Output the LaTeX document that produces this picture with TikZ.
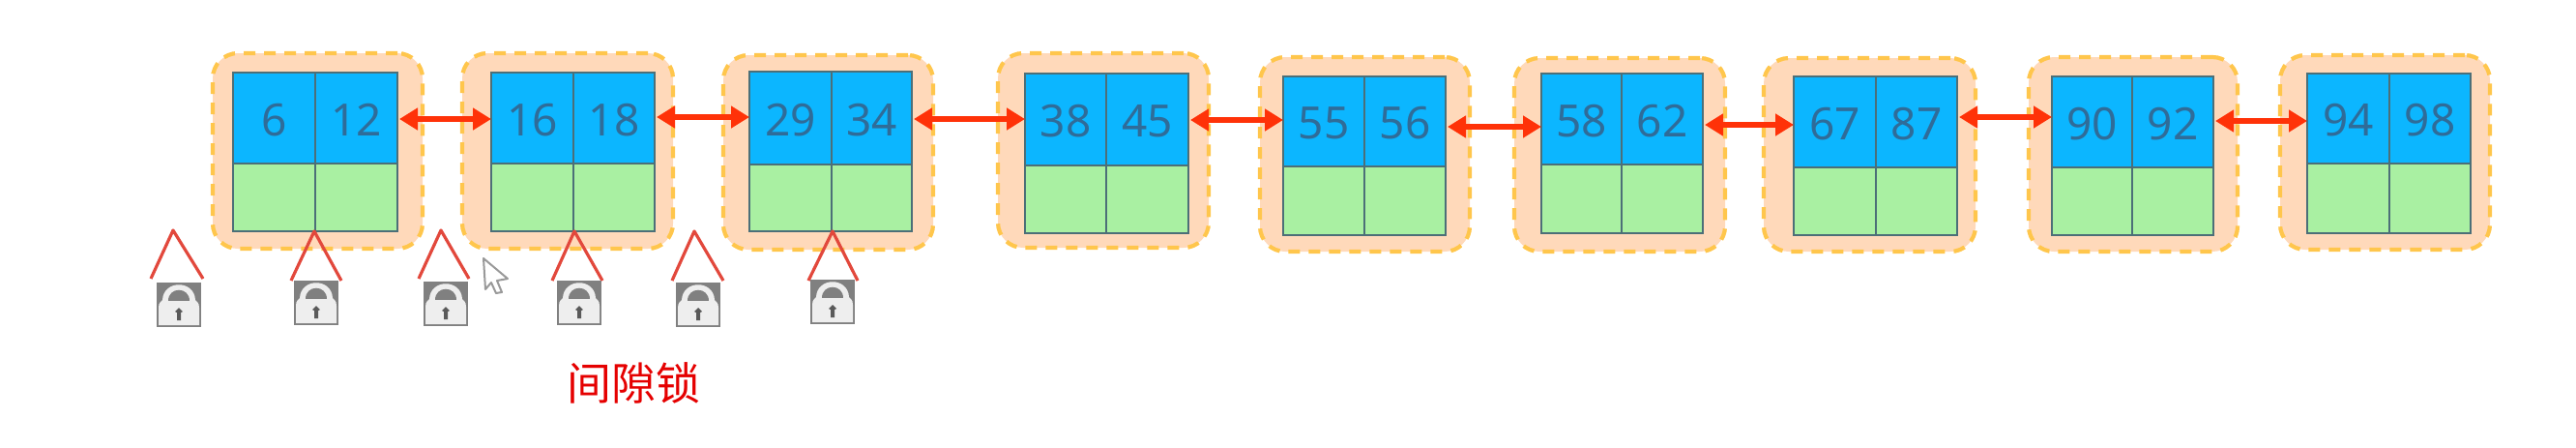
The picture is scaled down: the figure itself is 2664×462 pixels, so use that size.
\documentclass[tikz,border=0pt]{standalone}
\usepackage{fontspec}
\setmainfont{Noto Sans}
\newfontfamily\cjkfont{Noto Sans CJK SC}
\usetikzlibrary{fit,arrows.meta}
\definecolor{halo}{HTML}{FFD9BA}
\definecolor{halodash}{HTML}{FFC64C}
\definecolor{keyblue}{HTML}{0CB6FF}
\definecolor{leafgreen}{HTML}{A9F0A2}
\definecolor{cellline}{HTML}{4C6F78}
\definecolor{digit}{HTML}{2F6C99}
\definecolor{linkred}{HTML}{FF3208}
\definecolor{roofred}{HTML}{E2483C}
\definecolor{lockdark}{HTML}{808080}
\definecolor{locklight}{HTML}{EEEEEE}
\tikzset{
  x=0.5pt,y=-0.5pt,
  page/.style={fill=halo,draw=halodash,line width=2.1pt,rounded corners=13pt,dash pattern=on 6pt off 4.5pt,inner sep=0pt,outer sep=0pt},
  keycell/.style={fill=keyblue,draw=cellline,line width=0.9pt,inner sep=0pt,outer sep=0pt},
  leafcell/.style={fill=leafgreen,draw=cellline,line width=0.9pt,inner sep=0pt,outer sep=0pt},
  val/.style={text=digit,font=\fontsize{23}{23}\selectfont,inner sep=0pt},
  link/.style={draw=linkred,fill=linkred,line width=3pt,{Triangle[length=9.5pt,width=11pt]}-{Triangle[length=9.5pt,width=11pt]},shorten <=1pt},
  roofline/.style={draw=roofred,line width=1.6pt,line join=round},
  pics/lockicon/.style={code={
    \fill[lockdark] (0,0) rectangle (46,46);
    \fill[locklight] (2,44) -- (2,26) .. controls (2,20) and (5,20) .. (6,18) .. controls (7,-3) and (39,-3) .. (40,18) .. controls (41,20) and (44,20) .. (44,26) -- (44,44) -- cycle;
    \fill[lockdark] (12,19) .. controls (12,4) and (34,4) .. (34,19) -- cycle;
    \fill[lockdark!70!black] (23,26) -- (27,30) -- (25,31) -- (25,39) -- (21,39) -- (21,31) -- (19,30) -- cycle;
  }},
}
\begin{document}
\begin{tikzpicture}
\useasboundingbox (0,0) rectangle (2664,462);
\foreach \n/\Hl/\Hr/\Ht/\Hb/\Xa/\Xd/\Xb/\Yt/\Ym/\Yb/\Va/\Vb in {
  1/220/437/55/257/241/326/411/75/169/239/6/12,
  2/478/696/55/257/508/593/677/75/169/239/16/18,
  3/748/965/57/258/775/860/943/74/170/239/29/34,
  4/1032/1250/55/256/1060/1144/1229/76/171/241/38/45,
  5/1303/1520/59/260/1327/1411/1495/79/172/243/55/56,
  6/1566/1784/60/260/1594/1677/1761/76/170/241/58/62,
  7/1824/2043/60/260/1855/1940/2024/79/173/243/67/87,
  8/2098/2314/59/260/2122/2205/2289/79/173/243/90/92,
  9/2358/2575/57/258/2386/2471/2555/76/169/241/94/98}
{
  \coordinate (o\n) at (\Hl,\Ht);
  \coordinate (p\n) at (\Hr,\Hb);
  \node[page,fit=(o\n)(p\n)] (page\n) {};
  \coordinate (a\n) at (\Xa,\Yt);
  \coordinate (b\n) at (\Xd,\Ym);
  \coordinate (c\n) at (\Xb,\Yt);
  \coordinate (e\n) at (\Xa,\Ym);
  \coordinate (f\n) at (\Xd,\Yb);
  \coordinate (g\n) at (\Xb,\Ym);
  \node[keycell,fit=(a\n)(b\n)] (ka\n) {};
  \node[keycell,fit=(c\n)(b\n)] (kb\n) {};
  \node[leafcell,fit=(e\n)(f\n)] (la\n) {};
  \node[leafcell,fit=(g\n)(f\n)] (lb\n) {};
  \node[val] (ta\n) at ([yshift=-1pt]ka\n.center) {\Va};
  \node[val] (tb\n) at ([yshift=-1pt]kb\n.center) {\Vb};
}
\foreach \Pa/\Pb/\Yy in {1/2/123,2/3/121,3/4/123,4/5/124,5/6/131,6/7/129,7/8/121,8/9/125}
  \draw[link] (kb\Pa.east |- 0,\Yy) -- (ka\Pb.west |- 0,\Yy);
\foreach \Ax/\Ay/\Lx/\Rx/\Ry in {179/238/156/210/288,325/239/301/353/290,456/238/433/485/288,594/239/571/623/290,718/239/695/748/290,861/239/836/887/290}
  \draw[roofline] (\Lx,\Ry) -- (\Ax,\Ay) -- (\Rx,\Ry);
\foreach \Lx/\Ly in {162/292,304/290,438/291,576/290,699/292,838/289}
  \pic at (\Lx,\Ly) {lockicon};
\draw[draw=black!40,fill=white,line width=1pt,line join=round] (500,267) -- (502,299) -- (508,292) -- (513,303) -- (519,302) -- (514,290) -- (525,288) -- cycle;
\node[text=red!90!black,font=\cjkfont\fontsize{23}{23}\selectfont,inner sep=0pt] (gaplabel) at (655,396) {间隙锁};
\end{tikzpicture}
\end{document}
